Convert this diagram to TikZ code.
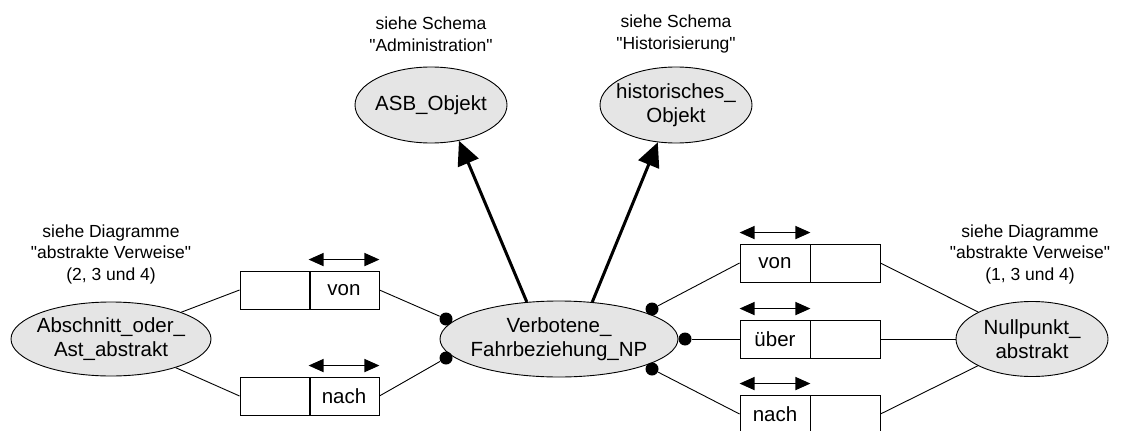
\documentclass[tikz,border=0pt]{standalone}
\usepackage{fontspec}
\setmainfont{Liberation Sans}
\usetikzlibrary{shapes.geometric,arrows.meta}
\begin{document}
\begin{tikzpicture}[x=1pt,y=-1pt,line width=0.9pt,
ent/.style={ellipse,draw,fill=black!10,inner sep=-12pt,align=center,font=\fontsize{20.5}{23.5}\selectfont},
cell/.style={rectangle,draw,minimum width=70pt,minimum height=38pt,inner sep=0pt,font=\fontsize{20.5}{23.5}\selectfont},
note/.style={align=center,font=\fontsize{17.5}{21.5}\selectfont},
dot/.style={circle,fill,inner sep=0pt,minimum size=13pt},
isa/.style={line width=3pt,-{Triangle[length=24pt,width=22pt]}},
dir/.style={line width=1.5pt,{Triangle[length=15pt,width=13pt]}-{Triangle[length=15pt,width=13pt]}}]
\useasboundingbox (0,0) rectangle (1122,431);
% entities
\node [note](nasb) at (431,34) {siehe Schema\\\textquotedbl Administration\textquotedbl};
\node [ent,minimum width=152pt,minimum height=76pt](asb) at (431,105) {ASB\_Objekt};
\node [note](nhist) at (676,34) {siehe Schema\\\textquotedbl Historisierung\textquotedbl};
\node [ent,minimum width=152pt,minimum height=76pt](hist) at (676,105) {historisches\_\\Objekt};
\node [ent,minimum width=238pt,minimum height=76pt](vf) at (559,339) {Verbotene\_\\Fahrbeziehung\_NP};
\node [note](nabs) at (111,254) {siehe Diagramme\\\textquotedbl abstrakte Verweise\textquotedbl\\(2, 3 und 4)};
\node [ent,minimum width=200pt,minimum height=74pt](abs) at (111,339) {Abschnitt\_oder\_\\Ast\_abstrakt};
\node [note](nnp) at (1030,254) {siehe Diagramme\\\textquotedbl abstrakte Verweise\textquotedbl\\(1, 3 und 4)};
\node [ent,minimum width=152pt,minimum height=75pt](np) at (1032,339) {Nullpunkt\_\\abstrakt};
% role boxes
\node [cell](lv1) at (275,290) {};
\node [cell](lv2) at (344,290) {von};
\node [cell](ln1) at (275,396) {};
\node [cell](ln2) at (344,396) {nach};
\node [cell](rv1) at (775,263) {von};
\node [cell](rv2) at (845,263) {};
\node [cell](ru1) at (775,339) {über};
\node [cell](ru2) at (845,339) {};
\node [cell](rn1) at (775,414) {nach};
\node [cell](rn2) at (845,414) {};
% dots
\node [dot](d1) at (446,319) {};
\node [dot](d2) at (446,358) {};
\node [dot](d3) at (652,309) {};
\node [dot](d4) at (685,339) {};
\node [dot](d5) at (652,369) {};
% connectors
\draw (abs) -- (lv1.west);
\draw (abs) -- (ln1.west);
\draw (lv2.east) -- (d1);
\draw (ln2.east) -- (d2);
\draw (d3) -- (rv1.west);
\draw (d4) -- (ru1.west);
\draw (d5) -- (rn1.west);
\draw (rv2.east) -- (np);
\draw (ru2.east) -- (np);
\draw (rn2.east) -- (np);
\draw [isa] (vf.131) -- (asb.-52);
\draw [isa] (vf.48) -- (hist.-116);
% reading direction
\draw [dir] ([yshift=11pt]lv2.north west) -- ([yshift=11pt]lv2.north east);
\draw [dir] ([yshift=11pt]ln2.north west) -- ([yshift=11pt]ln2.north east);
\draw [dir] ([yshift=11pt]rv1.north west) -- ([yshift=11pt]rv1.north east);
\draw [dir] ([yshift=11pt]ru1.north west) -- ([yshift=11pt]ru1.north east);
\draw [dir] ([yshift=11pt]rn1.north west) -- ([yshift=11pt]rn1.north east);
\end{tikzpicture}
\end{document}
